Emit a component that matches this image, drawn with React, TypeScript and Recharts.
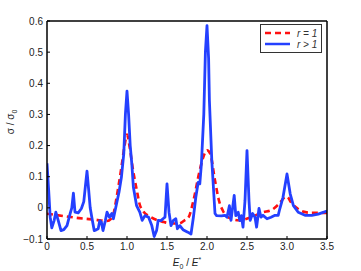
import { LineChart, Line, XAxis, YAxis, Legend } from "recharts";

// r > 1 (solid blue)
const blueX = [
  0, 0.02, 0.04, 0.06, 0.09, 0.11, 0.14, 0.175, 0.21, 0.25, 0.29, 0.31, 0.33, 0.35, 0.39, 0.43, 0.46, 0.48, 0.5,
  0.52, 0.54, 0.56, 0.59, 0.62, 0.64, 0.66, 0.68, 0.7, 0.73, 0.75, 0.78, 0.81, 0.83, 0.87, 0.9, 0.93, 0.96, 0.98,
  1.0, 1.02, 1.04, 1.06, 1.08, 1.12, 1.16, 1.19, 1.225, 1.27, 1.31, 1.34, 1.37, 1.39, 1.425, 1.45, 1.475, 1.5,
  1.525, 1.55, 1.58, 1.61, 1.63, 1.66, 1.7, 1.76, 1.8, 1.83, 1.86, 1.89, 1.91, 1.93, 1.96, 1.98, 2.0, 2.02, 2.03,
  2.06, 2.1, 2.12, 2.18, 2.225, 2.25, 2.28, 2.3, 2.34, 2.36, 2.39, 2.41, 2.43, 2.45, 2.475, 2.5, 2.525, 2.54,
  2.57, 2.6, 2.62, 2.65, 2.675, 2.7, 2.75, 2.8, 2.85, 2.89, 2.91, 2.95, 3.0, 3.04, 3.08, 3.14, 3.225, 3.31, 3.39,
  3.47, 3.5,
];
const blueY = [
  0.143, 0.06, -0.03, -0.064, -0.04, -0.014, -0.04, -0.073, -0.07, -0.057, -0.018, 0.0, 0.047, -0.014, -0.016,
  -0.002, 0.02, 0.07, 0.118, 0.06, 0.0, -0.03, -0.073, -0.07, -0.067, -0.041, -0.046, -0.073, -0.04, -0.014,
  -0.03, -0.018, -0.035, 0.014, 0.05, 0.098, 0.175, 0.3, 0.375, 0.3, 0.2, 0.142, 0.066, 0.007, -0.014, -0.04,
  -0.025, -0.03, -0.057, -0.092, -0.073, -0.04, -0.041, -0.035, -0.03, 0.077, -0.014, -0.057, -0.04, -0.035,
  -0.067, -0.057, -0.07, -0.078, -0.084, -0.03, 0.034, 0.082, 0.077, 0.141, 0.3, 0.5, 0.585, 0.48, 0.345, 0.152,
  -0.018, -0.025, -0.026, -0.024, -0.03, 0.007, -0.04, 0.04, -0.025, -0.014, -0.041, -0.025, -0.062, 0.023, 0.184,
  0.023, -0.04, -0.018, -0.03, -0.062, -0.002, -0.03, -0.024, -0.035, -0.03, -0.024, -0.024, -0.003, 0.034, 0.109,
  0.045, 0.007, -0.014, -0.024, -0.024, -0.02, -0.013, -0.01,
];

// r = 1 (dashed red)
const redX = [
  0, 0.2, 0.4, 0.6, 0.75, 0.8, 0.83, 0.87, 0.93, 0.97, 1.0, 1.03, 1.07, 1.12, 1.16, 1.2, 1.3, 1.45, 1.55, 1.65,
  1.72, 1.77, 1.83, 1.9, 1.95, 2.0, 2.04, 2.1, 2.15, 2.2, 2.3, 2.4, 2.55, 2.7, 2.8, 2.89, 2.975, 3.0, 3.05, 3.12,
  3.2, 3.3, 3.5,
];
const redY = [
  -0.019, -0.026, -0.033, -0.038, -0.042, -0.035, -0.02, 0.034, 0.13, 0.2, 0.235, 0.2, 0.13, 0.06, 0.01, -0.01,
  -0.03, -0.045, -0.05, -0.05, -0.04, -0.03, 0.023, 0.11, 0.16, 0.185, 0.174, 0.088, 0.023, -0.01, -0.035, -0.04,
  -0.03, -0.014, -0.008, 0.01, 0.034, 0.036, 0.018, 0.0, -0.012, -0.016, -0.016,
];

const xTicks = [0, 0.5, 1, 1.5, 2, 2.5, 3, 3.5];
const xTickLabels = ["0", "0.5", "1.0", "1.5", "2.0", "2.5", "3.0", "3.5"];
const yTicks = [-0.1, 0, 0.1, 0.2, 0.3, 0.4, 0.5, 0.6];
const yTickLabels = ["\u22120.1", "0", "0.1", "0.2", "0.3", "0.4", "0.5", "0.6"];

const blueData = blueX.map((x, i) => ({ x, y: blueY[i] }));
const redData = redX.map((x, i) => ({ x, y: redY[i] }));

const FONT = "'Liberation Sans', Arial, sans-serif";
const BLUE = "#2440ff";
const RED = "#ff1010";

const tickStyle = { fontSize: 10, fill: "#222", fontFamily: FONT };

const fmtX = (v: number) => xTickLabels[xTicks.indexOf(v)] ?? String(v);
const fmtY = (v: number) => {
  const i = yTicks.findIndex((t) => Math.abs(t - v) < 1e-9);
  return i >= 0 ? yTickLabels[i] : String(v);
};

const YLabel = () => (
  <text
    x={14}
    y={122}
    transform="rotate(-90 14 122)"
    textAnchor="middle"
    fontSize={10}
    fontFamily={FONT}
    fill="#222"
  >
    <tspan>{"\u03c3 / \u03c3"}</tspan>
    <tspan fontSize={7} dy={3}>0</tspan>
  </text>
);

const XLabel = () => (
  <text x={187} y={266} textAnchor="middle" fontSize={10} fontFamily={FONT} fill="#222">
    <tspan fontStyle="italic">E</tspan>
    <tspan fontSize={7} dy={3}>0</tspan>
    <tspan dy={-3}>{" / "}</tspan>
    <tspan fontStyle="italic">E</tspan>
    <tspan fontSize={7} dy={-4}>*</tspan>
  </text>
);

const LegendBox = () => (
  <svg width={62} height={29} style={{ display: "block" }}>
    <rect x={0.5} y={0.5} width={61} height={28} fill="#fff" stroke="#333" strokeWidth={1} />
    <line x1={5} y1={9} x2={30} y2={9} stroke={RED} strokeWidth={2.5} strokeDasharray="6 4" />
    <line x1={5} y1={20} x2={30} y2={20} stroke={BLUE} strokeWidth={2.5} />
    <text x={37} y={12.5} fontSize={10} fontStyle="italic" fontFamily={FONT} fill="#333">
      r = 1
    </text>
    <text x={37} y={23.5} fontSize={10} fontStyle="italic" fontFamily={FONT} fill="#333">
      {"r > 1"}
    </text>
  </svg>
);

const axisLine = { stroke: "#000", strokeWidth: 1.5 };
const tickLine = { stroke: "#000", strokeWidth: 1 };

export default function App() {
  return (
    <div style={{ position: "absolute", left: 0, top: 0, width: 361, height: 271, background: "#fff" }}>
      <LineChart width={361} height={271} margin={{ top: 20, right: 33, bottom: 12, left: 7 }}>
        <XAxis
          xAxisId="bottom"
          dataKey="x"
          type="number"
          domain={[0, 3.5]}
          ticks={xTicks}
          tickFormatter={fmtX}
          allowDataOverflow
          height={20}
          tick={tickStyle}
          tickSize={-3}
          tickMargin={7}
          axisLine={axisLine}
          tickLine={tickLine}
          label={<XLabel />}
        />
        <XAxis
          xAxisId="top"
          orientation="top"
          dataKey="x"
          type="number"
          domain={[0, 3.5]}
          ticks={xTicks}
          allowDataOverflow
          height={1}
          tick={false}
          tickSize={-3}
          axisLine={axisLine}
          tickLine={tickLine}
        />
        <YAxis
          yAxisId="left"
          type="number"
          domain={[-0.1, 0.6]}
          ticks={yTicks}
          tickFormatter={fmtY}
          allowDataOverflow
          width={40}
          tick={tickStyle}
          tickSize={-3}
          tickMargin={7}
          axisLine={axisLine}
          tickLine={tickLine}
          label={<YLabel />}
        />
        <YAxis
          yAxisId="right"
          orientation="right"
          type="number"
          domain={[-0.1, 0.6]}
          ticks={yTicks}
          allowDataOverflow
          width={1}
          tick={false}
          tickSize={-3}
          axisLine={axisLine}
          tickLine={tickLine}
        />
        <Line
          data={redData}
          xAxisId="bottom"
          yAxisId="left"
          dataKey="y"
          type="monotone"
          stroke={RED}
          strokeWidth={2.6}
          strokeDasharray="6 4"
          dot={false}
          activeDot={false}
          isAnimationActive={false}
        />
        <Line
          data={blueData}
          xAxisId="bottom"
          yAxisId="left"
          dataKey="y"
          type="linear"
          stroke={BLUE}
          strokeWidth={2.8}
          strokeLinejoin="round"
          dot={false}
          activeDot={false}
          isAnimationActive={false}
        />
        <Legend
          layout="horizontal"
          verticalAlign="middle"
          align="center"
          wrapperStyle={{ top: 24, left: 260, width: 62, height: 29 }}
          content={() => <LegendBox />}
        />
      </LineChart>
    </div>
  );
}
